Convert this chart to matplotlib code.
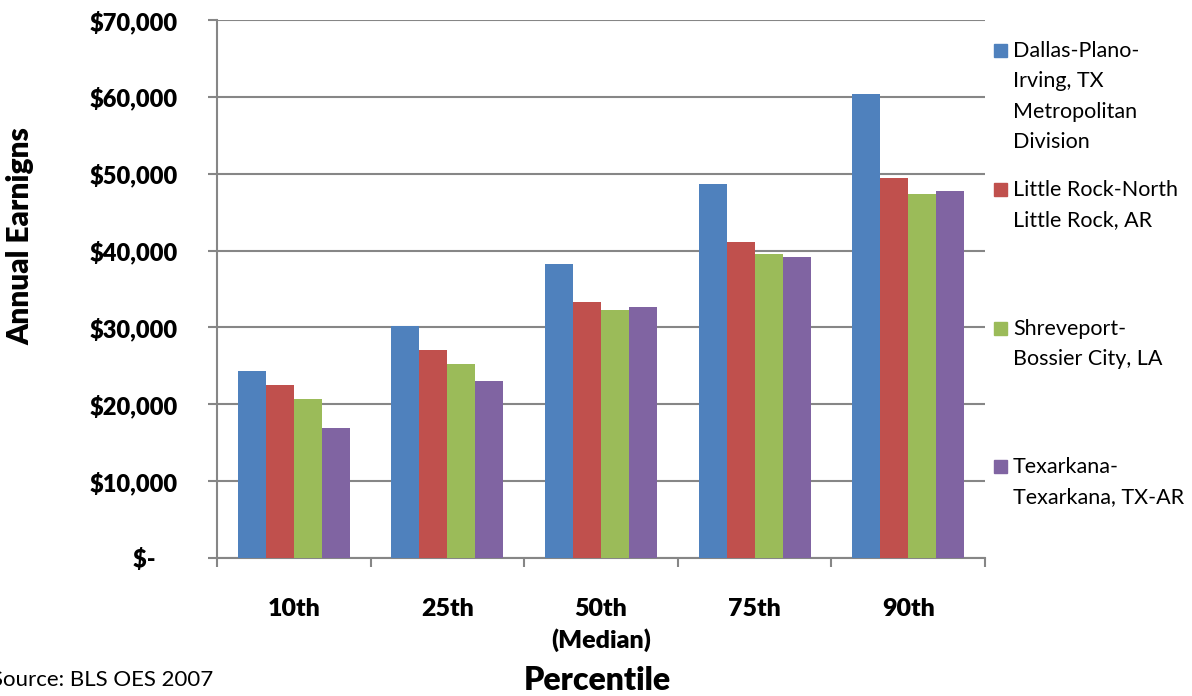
import matplotlib
matplotlib.use("Agg")
import matplotlib.pyplot as plt
from matplotlib.patches import Rectangle
from matplotlib.ticker import FuncFormatter, FixedLocator

plt.rcParams['font.family'] = ['Lato', 'DejaVu Sans']

percentiles = ["10th", "25th", "50th\n(Median)", "75th", "90th"]
areas = [
    "Dallas-Plano-\nIrving, TX\nMetropolitan\nDivision",
    "Little Rock-North\nLittle Rock, AR",
    "Shreveport-\nBossier City, LA",
    "Texarkana-\nTexarkana, TX-AR",
]
dallas = [24300, 30200, 38300, 48700, 60400]
little_rock = [22500, 27100, 33300, 41100, 49500]
shreveport = [20700, 25200, 32300, 39600, 47400]
texarkana = [16900, 23000, 32700, 39200, 47800]
series = [dallas, little_rock, shreveport, texarkana]
colors = ["#4F81BD", "#C0504D", "#9BBB59", "#8064A2"]

W, H = 1192, 696
fig = plt.figure(figsize=(W / 100, H / 100), dpi=100)
ax = fig.add_axes([217 / W, 1 - 558 / H, (985 - 217) / W, (558 - 20) / H])

grid_color = "#868686"
heavy = "heavy"
bar_w = 0.182
x = list(range(len(percentiles)))
for i, (vals, c) in enumerate(zip(series, colors)):
    off = (i - 1.5) * bar_w
    ax.bar([p + off for p in x], vals, width=bar_w, color=c, zorder=3,
           edgecolor="none")

ax.set_xlim(-0.5, len(percentiles) - 0.5)
ax.set_ylim(0, 70000)
ax.set_yticks(range(0, 70001, 10000))
ax.yaxis.set_major_formatter(FuncFormatter(
    lambda v, p: "$-    " if v == 0 else f"${v:,.0f}"))
ax.grid(axis="y", color=grid_color, linewidth=1.5, zorder=0)

for s in ["top", "right"]:
    ax.spines[s].set_visible(False)
for s in ["left", "bottom"]:
    ax.spines[s].set_color(grid_color)
    ax.spines[s].set_linewidth(1.5)

ax.tick_params(axis="y", length=6.5, width=1.5, color=grid_color, pad=22,
               labelsize=17)
for lab in ax.get_yticklabels():
    lab.set_fontweight(heavy)

ax.set_xticks(x)
ax.set_xticklabels(percentiles, fontsize=18, fontweight=heavy,
                   linespacing=1.4)
ax.tick_params(axis="x", which="major", length=0, pad=29)
ax.xaxis.set_minor_locator(FixedLocator([p - 0.5 for p in range(len(x) + 1)]))
ax.tick_params(axis="x", which="minor", length=6.5, width=1.5, color=grid_color)

fig.text(20 / W, 1 - 236 / H, "Annual Earnigns", rotation=90, ha="center",
         va="center", fontsize=21.5, fontweight=heavy)
fig.text(597 / W, 1 - 681 / H, "Percentile", ha="center", va="center",
         fontsize=23, fontweight=heavy)
fig.text(-9 / W, 1 - 680 / H, "Source: BLS OES 2007", ha="left", va="center",
         fontsize=16)

# legend entries stacked down the right margin
entry_y = [50, 189, 328, 466]
for name, c, yy in zip(areas, colors, entry_y):
    fig.patches.append(Rectangle((994 / W, 1 - (yy + 6.5) / H), 13 / W, 13 / H,
                                 transform=fig.transFigure, color=c))
    fig.text(1013 / W, 1 - (yy - 9) / H, name, ha="left", va="top",
             fontsize=15.5, linespacing=1.65)

fig.savefig("out.png", dpi=100)
